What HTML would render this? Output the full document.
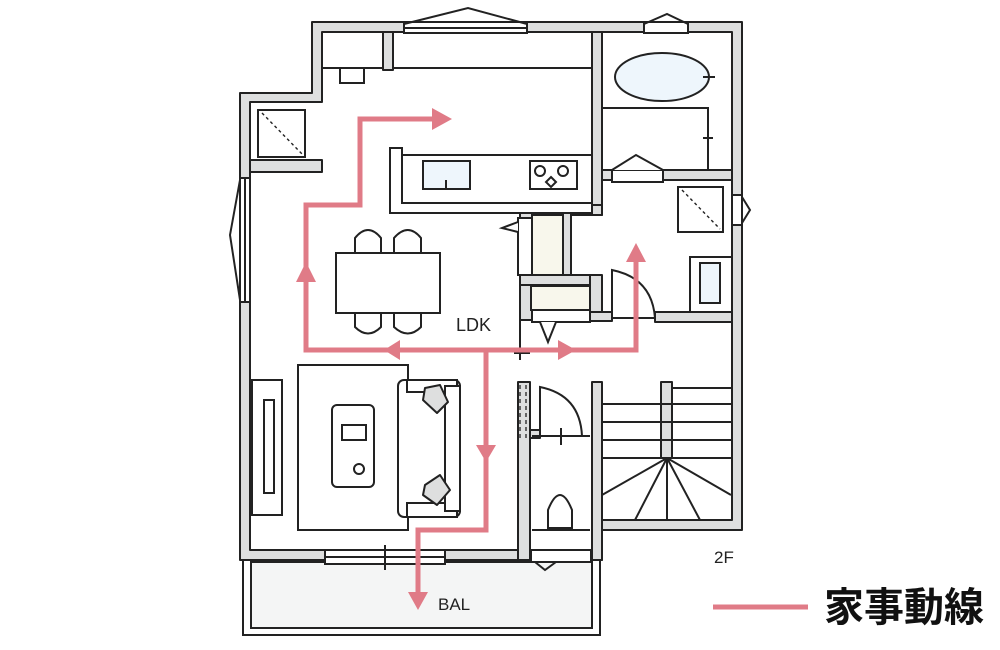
<!DOCTYPE html>
<html><head><meta charset="utf-8"><style>
html,body{margin:0;padding:0;background:#fff;width:1000px;height:650px;overflow:hidden}
svg{display:block}
.w{fill:#dedfdf;stroke:#222;stroke-width:2;stroke-linejoin:round}
.l{fill:none;stroke:#222;stroke-width:2}
.f{fill:#fff;stroke:#222;stroke-width:2}
.r{fill:none;stroke:#e07b87;stroke-width:5}
.ra{fill:#e07b87}
text{font-family:"Liberation Sans",sans-serif;fill:#222}
</style></head><body>
<svg width="1000" height="650" viewBox="0 0 1000 650">
<rect x="243" y="560" width="357" height="75" fill="#fff" stroke="#222" stroke-width="2"/>
<rect x="251" y="562" width="341" height="66" fill="#f4f5f5" stroke="#222" stroke-width="2"/>
<path class="w" d="M312 22 H742 V530 H602 V560 H240 V93 H312 Z M322 32 V102 H250 V550 H592 V520 H732 V32 Z" fill-rule="evenodd"/>
<rect class="w" x="383" y="32" width="10" height="38"/>
<rect class="w" x="250" y="160" width="72" height="12"/>
<rect class="w" x="592" y="32" width="10" height="183"/>
<rect class="w" x="602" y="170" width="130" height="10"/>
<rect class="w" x="520" y="205" width="82" height="10"/>
<rect class="w" x="520" y="205" width="12" height="115"/>
<rect class="w" x="563" y="213" width="8" height="64"/>
<rect class="w" x="520" y="275" width="80" height="10"/>
<rect class="w" x="590" y="275" width="12" height="45"/>
<rect class="w" x="590" y="312" width="22" height="9"/>
<rect class="w" x="655" y="312" width="77" height="10"/>
<rect class="w" x="518" y="382" width="12" height="178"/>
<rect class="w" x="592" y="382" width="10" height="178"/>
<rect class="w" x="661" y="382" width="11" height="76"/>
<rect class="w" x="530" y="430" width="10" height="8"/>
<rect x="532" y="215" width="31" height="60" fill="#f8f7ec" stroke="#222" stroke-width="2"/>
<rect x="531" y="286" width="59" height="24" fill="#f8f7ec" stroke="#222" stroke-width="2"/>
<rect class="f" x="532" y="310" width="58" height="12"/>
<path class="f" d="M540 322 L548 342 L556 322"/>
<rect class="f" x="518" y="218" width="14" height="57"/>
<path class="f" d="M518 222 L502 228 L518 232"/>
<rect class="f" x="404" y="22" width="123" height="11"/>
<path class="l" d="M404 24 L468 8 L527 24 M404 28 L527 28"/>
<rect class="f" x="644" y="22" width="44" height="11"/>
<path class="l" d="M644 24 L667 14 L688 24"/>
<rect class="f" x="240" y="178" width="10" height="124"/>
<path class="l" d="M240 180 L230 235 L240 300 M245 178 V302"/>
<rect class="f" x="732" y="195" width="10" height="30"/>
<path class="l" d="M742 197 L750 210 L742 223"/>
<rect class="f" x="612" y="170" width="51" height="12"/>
<path class="f" d="M612 170 L636 155 L663 170"/>
<rect class="f" x="325" y="550" width="120" height="14"/>
<path class="l" d="M325 557 H445 M385 545 V570"/>
<rect class="f" x="531" y="550" width="60" height="12"/>
<path class="l" d="M535 562 L545 570 L556 562"/>
<path class="l" d="M322 68 H383 M393 68 H592"/>
<rect class="f" x="340" y="68" width="24" height="15"/>
<rect class="f" x="258" y="110" width="47" height="47"/>
<path d="M262 113 L303 155" stroke="#222" stroke-width="1.4" stroke-dasharray="3 3"/>
<ellipse cx="662" cy="77" rx="47" ry="24" fill="#eef6fc" stroke="#222" stroke-width="2"/>
<path class="l" d="M703 77 H715 M602 108 H708 V170 M703 138 H713"/>
<rect class="f" x="678" y="187" width="45" height="45"/>
<path d="M682 190 L720 229" stroke="#222" stroke-width="1.4" stroke-dasharray="3 3"/>
<rect class="f" x="690" y="257" width="42" height="55"/>
<rect x="700" y="263" width="20" height="40" fill="#eef6fc" stroke="#222" stroke-width="2"/>
<path class="l" d="M612 318 V270 Q652 278 655 318 M612 318 H655"/>
<path class="f" d="M390 148 H402 V155 H592 V213 H390 Z"/>
<path class="l" d="M402 155 V203 H592"/>
<rect x="423" y="161" width="47" height="28" fill="#eef6fc" stroke="#222" stroke-width="2"/>
<path class="l" d="M446 180 V190"/>
<rect class="f" x="530" y="161" width="47" height="28"/>
<circle class="f" cx="540" cy="171" r="5"/><circle class="f" cx="563" cy="171" r="5"/>
<path class="f" d="M551 177 L556 182 L551 187 L546 182 Z"/>
<path class="f" d="M355 253 V238 Q368 222 381 238 V253 Z M394 253 V238 Q408 222 421 238 V253 Z"/>
<path class="f" d="M355 313 V327 Q368 340 381 327 V313 Z M394 313 V327 Q408 340 421 327 V313 Z"/>
<rect class="f" x="336" y="253" width="104" height="60"/>
<text x="456" y="331" font-size="18">LDK</text>
<rect class="f" x="252" y="380" width="30" height="135"/>
<rect class="f" x="264" y="400" width="10" height="93"/>
<rect class="f" x="298" y="365" width="110" height="165"/>
<rect class="f" x="398" y="380" width="62" height="137" rx="6"/>
<rect class="f" x="407" y="380" width="50" height="12"/><rect class="f" x="407" y="503" width="50" height="14"/>
<rect class="f" x="445" y="386" width="15" height="125"/>
<path class="w" d="M425 388 L440 385 L448 402 L437 413 L423 400 Z"/>
<path class="w" d="M425 485 L440 475 L450 490 L437 505 L423 495 Z"/>
<rect class="f" x="332" y="405" width="42" height="82" rx="5"/>
<rect class="f" x="342" y="425" width="24" height="15"/>
<circle class="f" cx="359" cy="469" r="5"/>
<path class="l" d="M520 320 V360 M514 353 H530"/>
<path d="M520 385 V440 M526 385 V440" stroke="#222" stroke-width="1.3" stroke-dasharray="4 3"/>
<path class="l" d="M540 436 V387 Q580 395 582 436 M532 436 H590 M561 428 V445"/>
<path class="f" d="M548 528 V510 Q560 480 572 510 V528 Z"/>
<path class="l" d="M532 530 H590"/>
<path class="l" d="M672 388 H731 M602 404 H731 M602 422 H731 M602 440 H731 M602 458 H731 M667 458 L602 495 M667 458 L635 520 M667 458 V520 M667 458 L700 520 M667 458 L731 495"/>
<path class="r" d="M306 270 V350 H636 V258 M306 282 V205 H360 V119 H436 M486 350 V530 H418 V595"/>
<path class="ra" d="M296 282 L306 262 L316 282 Z M432 108 L452 119 L432 130 Z M626 262 L636 243 L646 262 Z M400 340 L384 350 L400 360 Z M558 340 L576 350 L558 360 Z M476 445 L486 462 L496 445 Z M408 592 L418 610 L428 592 Z"/>
<text x="438" y="610" font-size="17">BAL</text>
<text x="714" y="563" font-size="17">2F</text>
<line x1="713" y1="607" x2="808" y2="607" stroke="#e07b87" stroke-width="5"/>
<text x="824" y="621" font-size="40" font-weight="bold" style="font-family:'Noto Sans CJK JP',sans-serif;fill:#111">家事動線</text>
</svg>
</body></html>
